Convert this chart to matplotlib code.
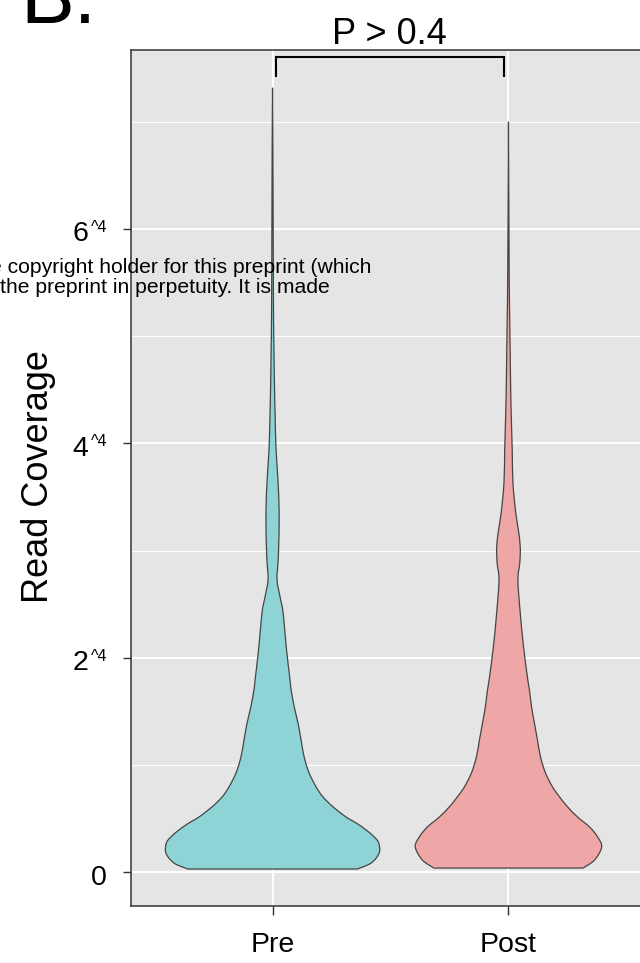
import matplotlib
matplotlib.use("Agg")
import matplotlib.pyplot as plt
from matplotlib.path import Path
from matplotlib.patches import PathPatch
import numpy as np

plt.rcParams['font.family'] = ['Liberation Sans', 'DejaVu Sans']

# ---- data ----
categories = ["Pre", "Post"]
y_tick_values = [0, 2, 4, 6]
y_tick_base = ["0", "2", "4", "6"]
y_tick_sup = ["", "^4", "^4", "^4"]
p_label = "P > 0.4"

# violin outlines: coverage level and half-width (in category units)
pre_level = [0.028, 0.084, 0.177, 0.271, 0.327, 0.392, 0.457, 0.513, 0.607, 0.700,
             0.793, 0.924, 1.073, 1.232, 1.390, 1.540, 1.698, 1.792, 2.100, 2.417,
             2.566, 2.725, 2.883, 3.033, 3.350, 3.658, 3.938, 4.246, 4.563, 4.871,
             5.179, 5.804, 6.737, 7.315]
pre_half = [0.359, 0.418, 0.452, 0.450, 0.431, 0.397, 0.355, 0.312, 0.257, 0.214,
            0.185, 0.155, 0.134, 0.121, 0.108, 0.092, 0.079, 0.074, 0.058, 0.045,
            0.032, 0.019, 0.023, 0.026, 0.028, 0.023, 0.015, 0.011, 0.008, 0.006,
            0.0042, 0.003, 0.0017, 0.0]

post_level = [0.037, 0.112, 0.233, 0.327, 0.420, 0.513, 0.607, 0.700, 0.793, 0.924,
              1.073, 1.232, 1.390, 1.540, 1.698, 1.792, 2.100, 2.417, 2.725, 2.883,
              3.033, 3.191, 3.350, 3.630, 3.938, 4.246, 4.563, 4.871, 5.179, 5.496,
              5.990, 6.998]
post_half = [0.316, 0.365, 0.395, 0.378, 0.344, 0.293, 0.251, 0.217, 0.187, 0.157,
             0.136, 0.123, 0.110, 0.098, 0.089, 0.082, 0.064, 0.050, 0.040, 0.048,
             0.050, 0.042, 0.031, 0.019, 0.016, 0.012, 0.009, 0.0072, 0.0051, 0.0034,
             0.0021, 0.0]

fill_colors = ["#8ed3d5", "#eea6a6"]
edge_color = "#454545"


def smooth_side(pts):
    """Bezier (CURVE4) segments through the given points (Catmull-Rom tangents)."""
    pts = np.asarray(pts, float)
    n = len(pts)
    verts, codes = [], []
    for k in range(n - 1):
        p0 = pts[k - 1] if k > 0 else pts[k]
        p1 = pts[k]
        p2 = pts[k + 1]
        p3 = pts[k + 2] if k + 2 < n else pts[k + 1]
        c1 = p1 + (p2 - p0) / 6.0
        c2 = p2 - (p3 - p1) / 6.0
        verts += [tuple(c1), tuple(c2), tuple(p2)]
        codes += [Path.CURVE4] * 3
    return verts, codes


# ---- figure ----
W, H = 640, 963
fig = plt.figure(figsize=(W / 100, H / 100), dpi=100)
ax_left, ax_right, ax_top, ax_bottom = 131, 650, 50, 906
ax = fig.add_axes([ax_left / W, 1 - ax_bottom / H, (ax_right - ax_left) / W,
                   (ax_bottom - ax_top) / H])
ax.set_facecolor("#e5e5e5")
ax.set_xlim(0.4, 2.6)
ax.set_ylim(-0.317, 7.67)

# grid
for v in y_tick_values:
    ax.axhline(v, color="white", lw=1.4, zorder=0)
for v in [1, 3, 5, 7]:
    ax.axhline(v, color="white", lw=0.7, zorder=0)
for i in range(len(categories)):
    ax.axvline(i + 1, color="white", lw=1.4, zorder=0)

# violins
for i, (lev, hw) in enumerate([(pre_level, pre_half), (post_level, post_half)]):
    lev = np.asarray(lev)
    hw = np.asarray(hw)
    c = i + 1
    left = np.column_stack([c - hw, lev])                 # bottom -> top
    right = np.column_stack([c + hw, lev])[::-1]          # top -> bottom
    verts = [tuple(left[0])]
    codes = [Path.MOVETO]
    v1, c1 = smooth_side(left)
    verts += v1; codes += c1
    v2, c2 = smooth_side(right)
    verts += v2; codes += c2
    verts.append(tuple(left[0])); codes.append(Path.LINETO)
    verts.append(tuple(left[0])); codes.append(Path.CLOSEPOLY)
    patch = PathPatch(Path(verts, codes), facecolor=fill_colors[i],
                      edgecolor=edge_color, lw=0.9, joinstyle="round", zorder=2)
    ax.add_patch(patch)

# axes styling
for s in ax.spines.values():
    s.set_color("#333333")
    s.set_linewidth(1.1)

ax.set_xticks([1, 2])
ax.set_xticklabels(categories, fontsize=20.5)
ax.tick_params(axis="x", length=6.5, width=1.0, color="#333333", pad=12)
ax.set_yticks(y_tick_values)
ax.set_yticklabels([""] * len(y_tick_values))
ax.tick_params(axis="y", length=5.8, width=1.0, color="#333333")

# y tick labels with small "^4"
for v, b, s in zip(y_tick_values, y_tick_base, y_tick_sup):
    if s:
        ax.annotate(s, xy=(0, v), xycoords=("axes fraction", "data"),
                    xytext=(-24 * 0.72, -3 * 0.72), textcoords="offset points",
                    ha="right", va="baseline", fontsize=11.5, annotation_clip=False)
        ax.annotate(b, xy=(0, v), xycoords=("axes fraction", "data"),
                    xytext=(-43 * 0.72, -12.5 * 0.72), textcoords="offset points",
                    ha="right", va="baseline", fontsize=20.5, annotation_clip=False)
    else:
        ax.annotate(b, xy=(0, v), xycoords=("axes fraction", "data"),
                    xytext=(-24 * 0.72, -12.5 * 0.72), textcoords="offset points",
                    ha="right", va="baseline", fontsize=20.5, annotation_clip=False)

# significance bracket
ax.plot([1.015, 1.015, 1.979, 1.979], [7.43, 7.605, 7.605, 7.43], color="black",
        lw=1.5, clip_on=False, zorder=5, solid_joinstyle="miter")
ax.text(1.495, 7.726, p_label, ha="center", va="baseline", fontsize=26, clip_on=False)

# y label
fig.text(39 / W, 1 - 477 / H, "Read Coverage", rotation=90, ha="center",
         va="center", fontsize=26)

# panel letter
fig.text(20 / W, 1 - 23 / H, "B.", ha="left", va="baseline", fontsize=58)

# overlapping preprint notice
fig.text(-10 / W, 1 - 272.7 / H, "e copyright holder for this preprint (which",
         ha="left", va="baseline", fontsize=15.2, zorder=10)
fig.text(0.5 / W, 1 - 292.7 / H, "the preprint in perpetuity. It is made",
         ha="left", va="baseline", fontsize=15.2, zorder=10)

fig.savefig("out.png", dpi=100)
